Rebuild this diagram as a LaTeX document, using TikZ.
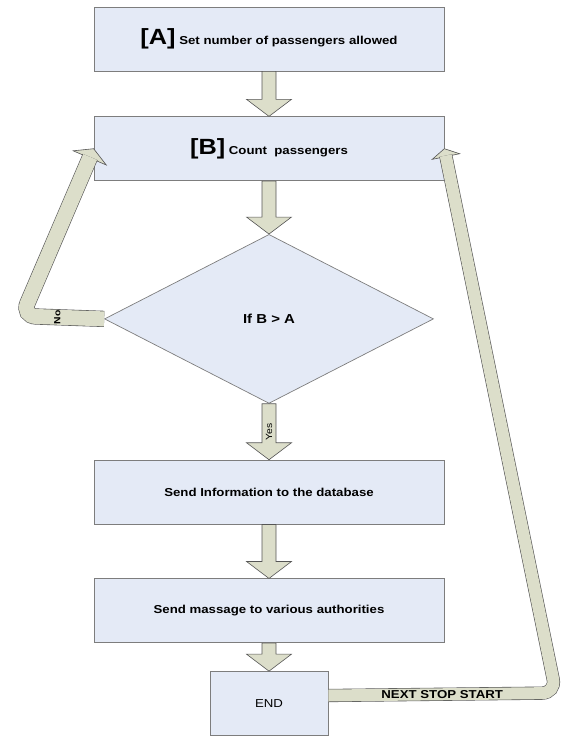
\documentclass[tikz,border=0pt]{standalone}
\usepackage{fontspec}
\setmainfont{Liberation Sans}[FakeStretch=1.15]
\usetikzlibrary{shapes.geometric,positioning,calc}

\definecolor{boxfill}{RGB}{228,234,246}
\definecolor{boxline}{RGB}{125,125,125}
\definecolor{arrowfill}{RGB}{220,222,202}
\definecolor{arrowline}{RGB}{85,85,85}

% block arrow from the bottom of one node to the top of the next
\newcommand{\flowarrow}[2]{%
  \draw[blockarrow] ($(#1.south)+(-7,0)$) -- ($(#2.north)+(-7,17)$)
    -- ($(#2.north)+(-22.5,17)$) -- (#2.north) -- ($(#2.north)+(22.5,17)$)
    -- ($(#2.north)+(7,17)$) -- ($(#1.south)+(7,0)$) -- cycle;}

\begin{document}
\begin{tikzpicture}[
  x=1pt, y=1pt,
  box/.style={rectangle, draw=boxline, fill=boxfill, line width=0.7pt, minimum width=350pt, minimum height=64pt, inner sep=0pt, font=\bfseries\fontsize{11.5}{13}\selectfont},
  decision/.style={diamond, draw=boxline, fill=boxfill, line width=0.7pt, aspect=1.95, minimum width=329pt, minimum height=169pt, inner sep=0pt, font=\bfseries\fontsize{13}{15}\selectfont},
  blockarrow/.style={draw=arrowline, fill=arrowfill, line width=0.6pt},
  bandarrow/.style={draw=arrowline, line width=0.6pt, double=arrowfill, rounded corners=14pt},
  tag/.style={inner sep=0pt, font=\fontsize{9}{9}\selectfont}
]
  \useasboundingbox (0,0) rectangle (564,-736);

  % Nombre autorise
  \node[box] (setA) at (269,-39) {{\fontsize{22}{22}\selectfont [A]} Set number of passengers allowed};

  % Comptage
  \node[box, below=45pt of setA] (countB) {{\fontsize{22}{22}\selectfont [B]} Count\ \ passengers};

  % Test
  \node[decision, below=53pt of countB] (check) {If B > A};

  % Envoi
  \node[box, below=56pt of check] (sendinfo) {Send Information to the database};
  \node[box, below=54pt of sendinfo] (sendmsg) {Send massage to various authorities};

  % Fin
  \node[box, minimum width=118pt, font=\fontsize{11.5}{13}\selectfont, below=28pt of sendmsg] (endbox) {END};

  % Fleches
  \flowarrow{setA}{countB}
  \flowarrow{countB}{check}
  \flowarrow{check}{sendinfo}
  \flowarrow{sendinfo}{sendmsg}
  \flowarrow{sendmsg}{endbox}
  \path (check.south) -- node[midway, rotate=90, tag] {Yes} (sendinfo.north);

  % Retour (No)
  \coordinate (nocorner) at (22,-316);
  \coordinate (nohead) at ($(countB.west)!10pt!(nocorner)$);
  \draw[blockarrow] ($(nohead)!18pt!90:(countB.west)$) -- (countB.west) -- ($(nohead)!18pt!-90:(countB.west)$) -- cycle;
  \draw[bandarrow, double distance=15pt] (check.west) -- node[pos=0.57, rotate=90, tag, font=\bfseries\fontsize{9}{9}\selectfont] {No} (nocorner) -- ($(countB.west)!9pt!(nocorner)$);

  % Arret suivant
  \coordinate (nextcorner) at (556,-693);
  \coordinate (nexthead) at ($(countB.east)!8pt!(nextcorner)$);
  \draw[blockarrow] ($(nexthead)!14pt!90:(countB.east)$) -- (countB.east) -- ($(nexthead)!14pt!-90:(countB.east)$) -- cycle;
  \draw[bandarrow, double distance=12pt] ($(endbox.east)+(0,8)$) -- node[midway, inner sep=0pt, font=\bfseries\fontsize{11.5}{13}\selectfont] {NEXT STOP START} (nextcorner) -- ($(countB.east)!7pt!(nextcorner)$);
\end{tikzpicture}
\end{document}
